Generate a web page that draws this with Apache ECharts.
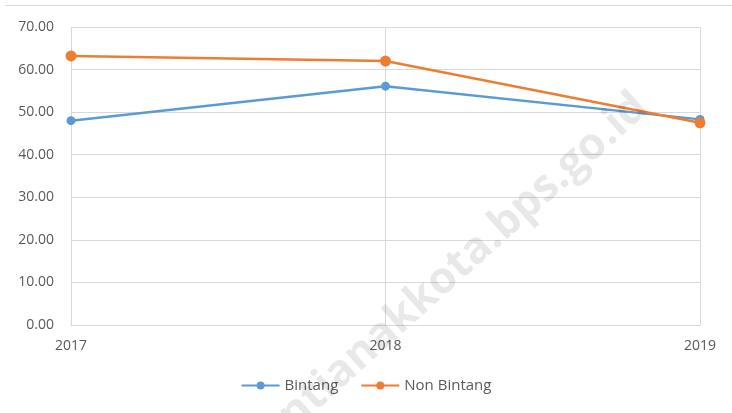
<!DOCTYPE html>
<html>
<head>
<meta charset="utf-8">
<script src="https://cdn.jsdelivr.net/npm/echarts@6/dist/echarts.min.js"></script>
<style>
  html, body { margin: 0; padding: 0; background: #fff; }
  #main { width: 732px; height: 413px; }
</style>
</head>
<body>
<div id="main"></div>
<script>
// data
var years = ['2017', '2018', '2019'];
var bintang = [48.0, 56.1, 48.3];
var nonBintang = [63.2, 62.0, 47.5];

var myChart = echarts.init(document.getElementById('main'));
var font = '"Open Sans", "Noto Sans", sans-serif';

var option = {
    animation: false,
    backgroundColor: '#fff',
    textStyle: { fontFamily: font },
    graphic: [
        // garis atas
        {
            type: 'line',
            shape: { x1: 5, y1: 5.5, x2: 732, y2: 5.5 },
            style: { stroke: '#d9d9d9', lineWidth: 1 },
            silent: true
        },
        // watermark
        {
            type: 'text',
            x: 443, y: 280,
            rotation: 42 * Math.PI / 180,
            z: 100,
            silent: true,
            style: {
                text: 'pontianakkota.bps.go.id',
                font: 'bold 44px "Open Sans", sans-serif',
                fill: 'rgba(0,0,0,0.09)',
                align: 'center',
                verticalAlign: 'middle'
            }
        }
    ],
    legend: {
        bottom: 15,
        left: 'center',
        itemWidth: 38,
        itemHeight: 10,
        itemGap: 22,
        textStyle: { color: '#595959', fontSize: 15, fontFamily: font },
        data: ['Bintang', 'Non Bintang']
    },
    grid: {
        left: 71,
        right: 32,
        top: 27,
        bottom: 88,
        containLabel: false
    },
    xAxis: {
        type: 'category',
        data: years,
        boundaryGap: false,
        axisLine: { lineStyle: { color: '#d9d9d9', width: 1 } },
        axisTick: { show: false },
        axisLabel: { color: '#595959', fontSize: 14, margin: 14, fontFamily: font },
        splitLine: { show: true, lineStyle: { color: '#d9d9d9', width: 1 } }
    },
    yAxis: {
        type: 'value',
        min: 0,
        max: 70,
        interval: 10,
        axisLine: { show: false },
        axisTick: { show: false },
        axisLabel: {
            color: '#595959', fontSize: 14, margin: 17, fontFamily: font,
            formatter: function (v) { return v.toFixed(2); }
        },
        splitLine: { lineStyle: { color: '#d9d9d9', width: 1 } }
    },
    series: [
        {
            name: 'Bintang',
            type: 'line',
            data: bintang,
            symbol: 'circle',
            symbolSize: 9,
            itemStyle: { color: '#5b9bd5' },
            lineStyle: { color: '#5b9bd5', width: 2.5 }
        },
        {
            name: 'Non Bintang',
            type: 'line',
            data: nonBintang,
            symbol: 'circle',
            symbolSize: 11,
            itemStyle: { color: '#ed7d31' },
            lineStyle: { color: '#ed7d31', width: 2.5 }
        }
    ]
};

myChart.setOption(option);
</script>
</body>
</html>
